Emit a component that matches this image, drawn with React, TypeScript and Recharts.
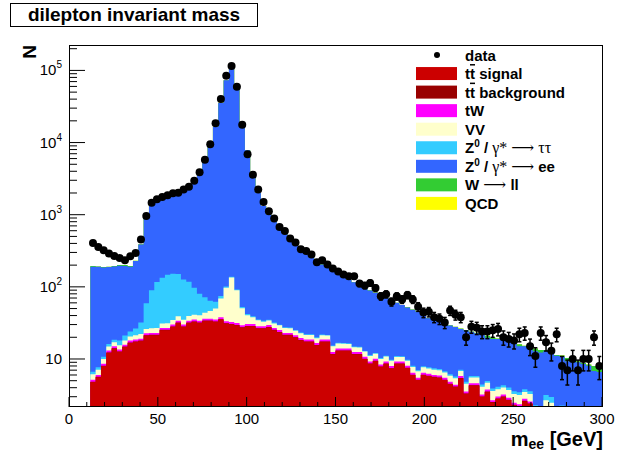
import React from 'react';
import { ComposedChart, Area, Scatter, ErrorBar, XAxis, YAxis } from 'recharts';

// 100 bins of 3 GeV, 0-300 GeV
const BIN_WIDTH = 3;

// observed events per bin
const dataCounts = [
  0, 0, 0, 0, 405, 357, 321, 289, 268, 251,
  233, 265, 294, 452, 960, 1470, 1635, 1760, 1857, 1977,
  2023, 2228, 2450, 2965, 3865, 5795, 9440, 18450, 40100, 84500,
  114700, 59400, 17700, 6870, 3590, 2228, 1500, 1114, 883, 676,
  595, 467, 411, 332, 315, 281, 219, 233, 204, 179,
  163, 148, 140, 140, 111, 104, 113, 96, 74, 79,
  62, 74, 67, 77, 67, 53, 44, 45, 38, 36,
  32, 47, 41, 38, 20, 28, 27, 24, 24, 25,
  26, 20, 19, 18, 22, 23, 15, 11, 23, 17,
  13, 22, 8, 7, 10, 7, 10, 10, 20, 8,
];

const ttSignal = [
  0, 0, 0, 0, 4.8, 5.6, 8.0, 12.2, 14.0, 12.6,
  14.7, 16.7, 17.3, 17.8, 21.1, 21.4, 21.4, 25.1, 25.1, 27.9,
  31.6, 27.9, 31.6, 32.7, 31.6, 33.7, 33.7, 32.7, 35.2, 31.0,
  30.3, 29.4, 27.3, 28.4, 28.4, 26.4, 26.4, 27.5, 25.1, 23.5,
  21.4, 21.4, 19.8, 18.2, 17.3, 17.3, 15.5, 17.3, 17.3, 11.6,
  13.0, 13.0, 13.0, 11.6, 11.6, 10.0, 8.6, 9.4, 7.8, 8.6,
  7.4, 8.6, 8.6, 7.5, 6.0, 5.1, 6.0, 5.8, 5.6, 5.5,
  5.1, 4.5, 4.1, 5.4, 3.3, 4.3, 4.3, 3.0, 3.5, 2.5,
  2.8, 3.0, 2.7, 2.3, 2.2, 2.6, 2.4, 1.2, 1.0, 1.1,
  0.9, 1.0, 0.8, 0.7, 0.8, 0.6, 0.7, 0.5, 0.6, 0.5,
];

const ttBackground = [
  0, 0, 0, 0, 0.05, 0.06, 0.08, 0.12, 0.14, 0.13,
  0.15, 0.17, 0.17, 0.18, 0.21, 0.21, 0.21, 0.25, 0.25, 0.28,
  0.32, 0.28, 0.32, 0.33, 0.32, 0.34, 0.34, 0.33, 0.35, 0.31,
  0.3, 0.29, 0.27, 0.28, 0.28, 0.26, 0.26, 0.28, 0.25, 0.24,
  0.21, 0.21, 0.2, 0.18, 0.17, 0.17, 0.16, 0.17, 0.17, 0.12,
  0.13, 0.13, 0.13, 0.12, 0.12, 0.1, 0.09, 0.09, 0.08, 0.09,
  0.07, 0.09, 0.09, 0.08, 0.06, 0.05, 0.06, 0.06, 0.06, 0.06,
  0.05, 0.05, 0.04, 0.05, 0.03, 0.04, 0.04, 0.03, 0.04, 0.03,
  0.03, 0.03, 0.03, 0.02, 0.02, 0.03, 0.02, 0.01, 0.01, 0.01,
  0.01, 0.01, 0.01, 0.01, 0.01, 0.01, 0.01, 0.01, 0.01, 0.01,
];

const tW = [
  0, 0, 0, 0, 0.3, 0.35, 0.5, 0.8, 0.9, 0.8,
  0.95, 1.1, 1.1, 1.15, 1.4, 1.4, 1.4, 1.6, 1.6, 1.8,
  2.1, 1.8, 2.1, 2.1, 2.1, 2.2, 2.2, 2.1, 2.3, 2.0,
  2.0, 1.9, 1.8, 1.8, 1.8, 1.7, 1.7, 1.8, 1.6, 1.5,
  1.4, 1.4, 1.3, 1.2, 1.1, 1.1, 1.0, 1.1, 1.1, 0.75,
  0.85, 0.85, 0.85, 0.75, 0.75, 0.65, 0.55, 0.6, 0.5, 0.55,
  0.5, 0.55, 0.55, 0.5, 0.4, 0.35, 0.4, 0.38, 0.36, 0.36,
  0.33, 0.3, 0.27, 0.35, 0.22, 0.28, 0.28, 0.2, 0.23, 0.16,
  0.18, 0.2, 0.18, 0.15, 0.14, 0.17, 0.16, 0.08, 0.07, 0.07,
  0.06, 0.07, 0.05, 0.05, 0.05, 0.04, 0.05, 0.03, 0.04, 0.03,
];

const diboson = [
  0, 0, 0, 0, 1.0, 1.1, 1.4, 1.8, 2.0, 2.0,
  2.3, 2.6, 2.8, 3.0, 3.3, 3.6, 3.8, 4.2, 4.4, 4.8,
  5.2, 5.0, 5.5, 6.0, 6.5, 7.5, 10, 15, 31, 64,
  102, 58, 21, 10, 7.5, 6.0, 4.5, 4.5, 4.2, 4.0,
  3.8, 3.6, 3.4, 3.2, 3.0, 2.9, 2.8, 2.7, 2.6, 2.5,
  2.4, 2.3, 2.2, 2.1, 2.0, 1.9, 1.8, 1.7, 1.6, 1.55,
  1.5, 1.45, 1.4, 1.35, 1.3, 1.25, 1.2, 1.15, 1.1, 1.05,
  1.0, 1.0, 1.0, 1.0, 1.0, 0.9, 0.9, 0.9, 0.9, 0.9,
  0.8, 0.8, 0.8, 0.8, 0.8, 0.7, 0.7, 0.7, 0.7, 1.5,
  1.5, 0.6, 1.2, 0.6, 0.6, 0.5, 0.5, 0.5, 0.5, 0.5,
];

const zTauTau = [
  0, 0, 0, 0, 0.5, 0.6, 0.8, 1.2, 1.5, 2.5,
  3, 3.5, 5, 10, 33, 63, 90, 103, 116, 117,
  111, 91, 78, 56, 40, 28, 18, 12, 6, 4,
  3, 2.5, 2, 1.5, 1.2, 1.0, 0.9, 0.8, 0.8, 0.7,
  0.7, 0.6, 0.6, 0.6, 0.5, 0.5, 0.5, 0.5, 0.4, 0.4,
  0.4, 0.4, 0.4, 0.3, 0.3, 0.3, 0.3, 0.3, 0.3, 0.3,
  0.3, 0.3, 0.3, 0.3, 0.3, 0.3, 0.3, 0.3, 0.3, 0.3,
  0.3, 0.3, 0.3, 0.3, 0.3, 0.3, 0.3, 0.3, 0.3, 0.3,
  0.3, 0.3, 0.3, 0.3, 0.3, 0.3, 0.3, 0.3, 0.3, 0.5,
  0.5, 0.3, 0.2, 0.2, 0.2, 0.2, 0.2, 0.2, 0.2, 0.2,
];

const zEE = [
  0, 0, 0, 0, 184, 182, 175, 172, 173, 178,
  173, 166, 201, 355, 878, 1257, 1440, 1542, 1629, 1724,
  1796, 1970, 2228, 2798, 3664, 5520, 9026, 16423, 35405, 72869,
  104822, 57883, 17238, 7752, 3857, 1962, 1286, 975, 768, 610,
  512, 422, 354, 300, 268, 233, 205, 183, 163, 149,
  133, 120, 109, 101, 91, 85, 78, 71, 65, 59,
  55, 49, 45, 42, 40, 38, 34, 29, 27, 25.5,
  24, 23, 22, 19, 20, 18, 17, 17.3, 14.8, 15,
  14.8, 13.8, 13.3, 12.9, 11.5, 11.2, 10.7, 10.5, 10.2, 9.8,
  9.3, 9.1, 8.6, 7.75, 7.85, 7.65, 7.05, 6.85, 5.45, 5.35,
];

const wLL = [
  0, 0, 0, 0, 4, 2, 2, 2, 3, 4,
  6, 5, 3, 3, 3, 3, 3, 4, 4, 4,
  4, 4, 5, 5, 6, 8, 10, 15, 20, 30,
  40, 25, 10, 6, 4, 3, 0.5, 0.5, 0.4, 0.4,
  0.4, 0.4, 0.4, 0.3, 0.3, 0.3, 0.3, 0.3, 0.3, 0.3,
  0.3, 0.3, 0.3, 0.3, 0.3, 0.3, 0.3, 0.3, 0.3, 0.3,
  0.3, 0.3, 0.3, 0.3, 0.3, 0.3, 0.3, 0.3, 0.3, 0.3,
  0.3, 0.3, 0.3, 0.3, 0.3, 0.3, 0.3, 0.3, 1.2, 1.0,
  0.3, 0.3, 0.3, 0.3, 1.0, 0.3, 0.3, 1.2, 1.0, 0.3,
  0.3, 0.3, 0.3, 1.0, 0.3, 0.3, 0.3, 0.3, 1.2, 1.0,
];

const qcd = [
  0, 0, 0, 0, 0, 0, 0, 0, 0, 0,
  0, 0, 0, 0, 0, 0, 0, 0, 0, 0,
  0, 0, 0, 0, 0, 0, 0, 0, 0, 0,
  0, 0, 0, 0, 0, 0, 0, 0, 0, 0,
  0, 0, 0, 1.0, 0, 0, 0, 0, 0, 0,
  0, 0, 0, 0, 0, 0, 0, 0, 0, 0,
  0, 0, 0, 0, 0, 0, 0, 0, 0, 0,
  0, 0, 0, 0, 0, 0, 0, 0, 0, 0,
  0, 0, 0, 0, 0, 0, 0, 0, 0, 0,
  0, 0, 0, 0, 0, 0, 0, 0, 0, 0,
];

// stack order bottom -> top
const stack = [
  { name: 'ttSignal', values: ttSignal, color: '#cc0000' },
  { name: 'ttBackground', values: ttBackground, color: '#990000' },
  { name: 'tW', values: tW, color: '#ff00ff' },
  { name: 'VV', values: diboson, color: '#ffffcc' },
  { name: 'Ztautau', values: zTauTau, color: '#33ccff' },
  { name: 'Zee', values: zEE, color: '#3366ff' },
  { name: 'Wll', values: wLL, color: '#33cc33' },
  { name: 'QCD', values: qcd, color: '#ffff00' },
];

const massTicks = [0, 10, 20, 30, 40, 50, 60, 70, 80, 90, 100, 110, 120, 130, 140, 150,
  160, 170, 180, 190, 200, 210, 220, 230, 240, 250, 260, 270, 280, 290, 300];
const Y_MIN = 2.16;
const Y_MAX = 2.18e5;

const logTicks: number[] = [];
for (let e = 0; e <= 5; e++) {
  for (let m = 1; m <= 9; m++) {
    const v = m * Math.pow(10, e);
    if (v >= Y_MIN && v <= Y_MAX) logTicks.push(v);
  }
}

const FONT = '"Liberation Sans", Arial, Helvetica, sans-serif';
const SYMBOL_FONT = '"Liberation Serif", "DejaVu Serif", serif';
const X_TICK_MARGIN = 6;
const Y_TICK_MARGIN = 7;

// build cumulative rows for the step areas (last row closes the final bin)
const histRows = [];
for (let i = 0; i <= dataCounts.length; i++) {
  const idx = Math.min(i, dataCounts.length - 1);
  const row: any = { x: i * BIN_WIDTH };
  let sum = 0;
  stack.forEach((s, k) => {
    sum += s.values[idx];
    row['c' + k] = Math.max(sum, 0.01);
  });
  histRows.push(row);
}

const dataPoints = dataCounts
  .map((n, i) => ({ x: (i + 0.5) * BIN_WIDTH, n, err: Math.sqrt(n) }))
  .filter((d) => d.n > 0);

const MassTick = (props: any) => {
  const { x, y, payload } = props;
  const v = payload.value;
  const major = v % 50 === 0;
  const axisY = y - X_TICK_MARGIN;
  return (
    <g>
      <line x1={x} x2={x} y1={axisY} y2={axisY - (major ? 10 : 5)} stroke="#000" />
      {major && (
        <text x={x} y={axisY + 17} textAnchor="middle" fontSize={15} fontFamily={FONT} fill="#000">
          {v}
        </text>
      )}
    </g>
  );
};

const LogTick = (props: any) => {
  const { x, y, payload } = props;
  const v = payload.value;
  const exp = Math.round(Math.log10(v));
  const major = Math.abs(v - Math.pow(10, exp)) < 1e-6 * v;
  const axisX = x + Y_TICK_MARGIN;
  return (
    <g>
      <line x1={axisX} x2={axisX + (major ? 16 : 8)} y1={y} y2={y} stroke="#000" />
      {major && (
        <text x={x} y={y + 5} textAnchor="end" fontSize={15} fontFamily={FONT} fill="#000">
          10
          {exp > 1 && (
            <tspan dy={-7} fontSize={10}>
              {exp}
            </tspan>
          )}
        </text>
      )}
    </g>
  );
};

const legendItems = [
  { key: 'data', color: '#000' },
  { key: 'sig', color: '#cc0000' },
  { key: 'bkg', color: '#990000' },
  { key: 'tW', color: '#ff00ff' },
  { key: 'VV', color: '#ffffcc' },
  { key: 'ztt', color: '#33ccff' },
  { key: 'zee', color: '#3366ff' },
  { key: 'wll', color: '#33cc33' },
  { key: 'qcd', color: '#ffff00' },
];

const sym = (s: string) => (
  <tspan fontWeight="normal" fontFamily={SYMBOL_FONT} fontSize={16}>
    {s}
  </tspan>
);

const legendLabel = (key: string) => {
  const bar = <tspan textDecoration="overline">t</tspan>;
  switch (key) {
    case 'data':
      return <tspan>data</tspan>;
    case 'sig':
      return <tspan>t{bar} signal</tspan>;
    case 'bkg':
      return <tspan>t{bar} background</tspan>;
    case 'tW':
      return <tspan>tW</tspan>;
    case 'VV':
      return <tspan>VV</tspan>;
    case 'ztt':
      return (
        <tspan>
          Z<tspan dy={-6} fontSize={10}>0</tspan>
          <tspan dy={6}> / </tspan>
          {sym('γ* ⟶ ττ')}
        </tspan>
      );
    case 'zee':
      return (
        <tspan>
          Z<tspan dy={-6} fontSize={10}>0</tspan>
          <tspan dy={6}> / </tspan>
          {sym('γ* ⟶ ')}ee
        </tspan>
      );
    case 'wll':
      return (
        <tspan>
          W {sym('⟶')} ll
        </tspan>
      );
    default:
      return <tspan>QCD</tspan>;
  }
};

export default function App() {
  return (
    <div style={{ position: 'absolute', left: 0, top: 0, width: 617, height: 452, background: '#fff' }}>
      <ComposedChart
        width={617}
        height={452}
        data={histRows}
        margin={{ top: 46, right: 15, bottom: 0, left: 9 }}
        style={{ fontFamily: FONT }}
      >
        <XAxis
          type="number"
          dataKey="x"
          domain={[0, 300]}
          ticks={massTicks}
          interval={0}
          tick={(p: any) => <MassTick {...p} />}
          tickLine={false}
          axisLine={false}
          tickSize={0}
          tickMargin={X_TICK_MARGIN}
          height={45}
          allowDataOverflow
        />
        <YAxis
          type="number"
          scale="log"
          domain={[Y_MIN, Y_MAX]}
          allowDataOverflow
          ticks={logTicks}
          interval={0}
          tick={(p: any) => <LogTick {...p} />}
          tickLine={false}
          axisLine={false}
          tickSize={0}
          tickMargin={Y_TICK_MARGIN}
          width={60}
        />
        {stack
          .map((s, k) => ({ ...s, k }))
          .reverse()
          .map((s) => (
            <Area
              key={s.name}
              type="stepAfter"
              dataKey={'c' + s.k}
              fill={s.color}
              fillOpacity={1}
              stroke="none"
              dot={false}
              activeDot={false}
              isAnimationActive={false}
            />
          ))}
        <Scatter
          data={dataPoints}
          dataKey="n"
          isAnimationActive={false}
          shape={(p: any) => <circle cx={p.cx} cy={p.cy} r={4} fill="#000" />}
        >
          <ErrorBar dataKey="err" direction="y" width={2} stroke="#000" strokeWidth={1.5} isAnimationActive={false} />
        </Scatter>
      </ComposedChart>

      <svg
        width={617}
        height={452}
        style={{ position: 'absolute', left: 0, top: 0, pointerEvents: 'none', fontFamily: FONT }}
      >
        {/* frame */}
        <rect x={69.5} y={45.5} width={533} height={361} fill="none" stroke="#000" />

        {/* title box */}
        <rect x={10.5} y={3.5} width={247} height={23} fill="#fff" stroke="#000" />
        <text x={134} y={20.5} textAnchor="middle" fontSize={19} fontWeight="bold" fill="#000">
          dilepton invariant mass
        </text>

        {/* axis titles */}
        <text x={36} y={45} transform="rotate(-90 36 45)" textAnchor="end" fontSize={19} fontWeight="bold" fill="#000">
          N
        </text>
        <text x={603} y={446} textAnchor="end" fontSize={20} fontWeight="bold" fill="#000">
          m<tspan dy={3} fontSize={14}>ee</tspan>
          <tspan dy={-3}> [GeV]</tspan>
        </text>

        {/* legend */}
        {legendItems.map((it, i) => {
          const cy = 55 + i * 18.55;
          return (
            <g key={it.key}>
              {it.key === 'data' ? (
                <circle cx={437} cy={cy} r={3} fill="#000" />
              ) : (
                <rect x={416} y={cy - 6.5} width={41} height={13} fill={it.color} />
              )}
              <text x={465} y={cy + 5.5} fontSize={15} fontWeight="bold" fill="#000">
                {legendLabel(it.key)}
              </text>
            </g>
          );
        })}
      </svg>
    </div>
  );
}
